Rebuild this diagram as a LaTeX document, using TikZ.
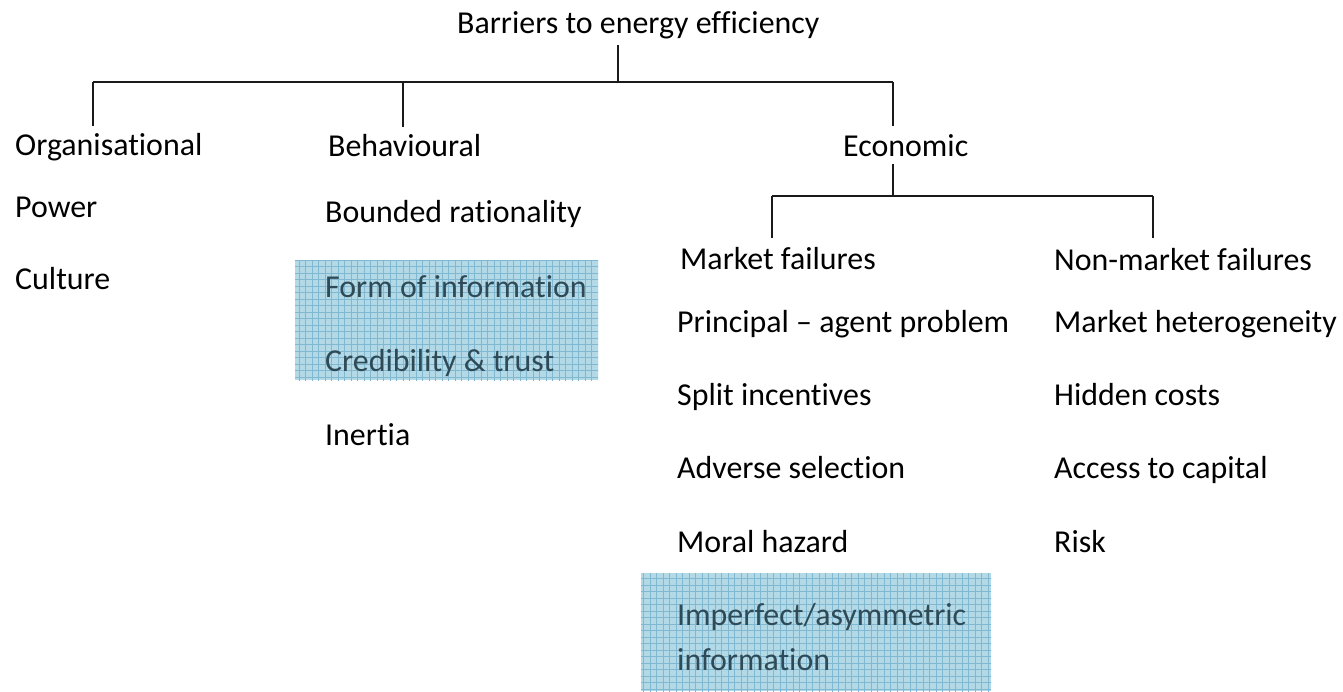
\documentclass[tikz,border=0pt]{standalone}
\usepackage{fontspec}
\setmainfont{Carlito}[RawFeature={-liga;-clig}]
\definecolor{boxfill}{HTML}{B3D9E6}
\definecolor{gridc}{HTML}{7FB8D0}
\definecolor{boxtext}{HTML}{2F4A57}
\definecolor{linec}{HTML}{1A1A1A}
\begin{document}
\begin{tikzpicture}[x=1pt,y=-1pt,
  lbl/.style={anchor=base west,inner sep=0pt,text height=24pt,text depth=7pt,
    font=\fontsize{31.9pt}{38pt}\selectfont},
  hl/.style={lbl,text=boxtext},
  conn/.style={draw=linec,line width=2pt}]
\useasboundingbox (0,0) rectangle (1343,691);
% highlight boxes
\begin{scope}
\clip (295,260) rectangle (598,380);
\fill[boxfill] (295,260) rectangle (598,380);
\draw[gridc,line width=0.8pt,step=6.5pt] (290,255) grid (600,385);
\end{scope}
\begin{scope}
\clip (641,573) rectangle (991,691);
\fill[boxfill] (641,573) rectangle (991,691);
\draw[gridc,line width=0.8pt,step=6.5pt] (636,568) grid (995,695);
\end{scope}
% nodes
\node[lbl] (title) at (457,33) {Barriers to energy efficiency};
\node[lbl] (org) at (15,155) {Organisational};
\node[lbl] (beh) at (328,156) {Behavioural};
\node[lbl] (eco) at (843,156) {Economic};
\node[lbl] (mf) at (680,269) {Market failures};
\node[lbl] (nmf) at (1054,270) {Non-market failures};
\node[lbl] (pow) at (15,217) {Power};
\node[lbl] (cul) at (15,289) {Culture};
\node[lbl] (bnd) at (325,222) {Bounded rationality};
\node[hl] (form) at (325,297) {Form of information};
\node[hl] (cred) at (325,371) {Credibility \& trust};
\node[lbl] (ine) at (325,445) {Inertia};
\node[lbl] (pa) at (677,332) {Principal – agent problem};
\node[lbl] (spl) at (677,405) {Split incentives};
\node[lbl] (adv) at (677,478) {Adverse selection};
\node[lbl] (mor) at (677,552) {Moral hazard};
\node[hl] (imp) at (677,625) {Imperfect/asymmetric};
\node[hl] (inf) at (677,670) {information};
\node[lbl] (het) at (1054,332) {Market heterogeneity};
\node[lbl] (hid) at (1054,405) {Hidden costs};
\node[lbl] (acc) at (1054,478) {Access to capital};
\node[lbl] (rsk) at (1054,552) {Risk};
% junctions
\coordinate (j0) at (618,82);
\coordinate (a1) at (93,82);
\coordinate (a2) at (403,82);
\coordinate (a3) at (893,82);
\coordinate (e0) at (893,196);
\coordinate (b1) at (772,196);
\coordinate (b2) at (1153,196);
% connectors
\draw[conn] ([yshift=-5pt]title.south -| j0) -- (j0);
\draw[conn] (a1) -- (a3);
\draw[conn] (a1) -- ([yshift=5pt]org.north -| a1);
\draw[conn] (a2) -- ([yshift=5pt]beh.north -| a2);
\draw[conn] (a3) -- ([yshift=6pt]eco.north -| a3);
\draw[conn] ([yshift=-1pt]eco.south -| e0) -- (e0);
\draw[conn] (b1) -- (b2);
\draw[conn] (b1) -- ([yshift=7pt]mf.north -| b1);
\draw[conn] (b2) -- ([yshift=8pt]nmf.north -| b2);
\end{tikzpicture}
\end{document}
